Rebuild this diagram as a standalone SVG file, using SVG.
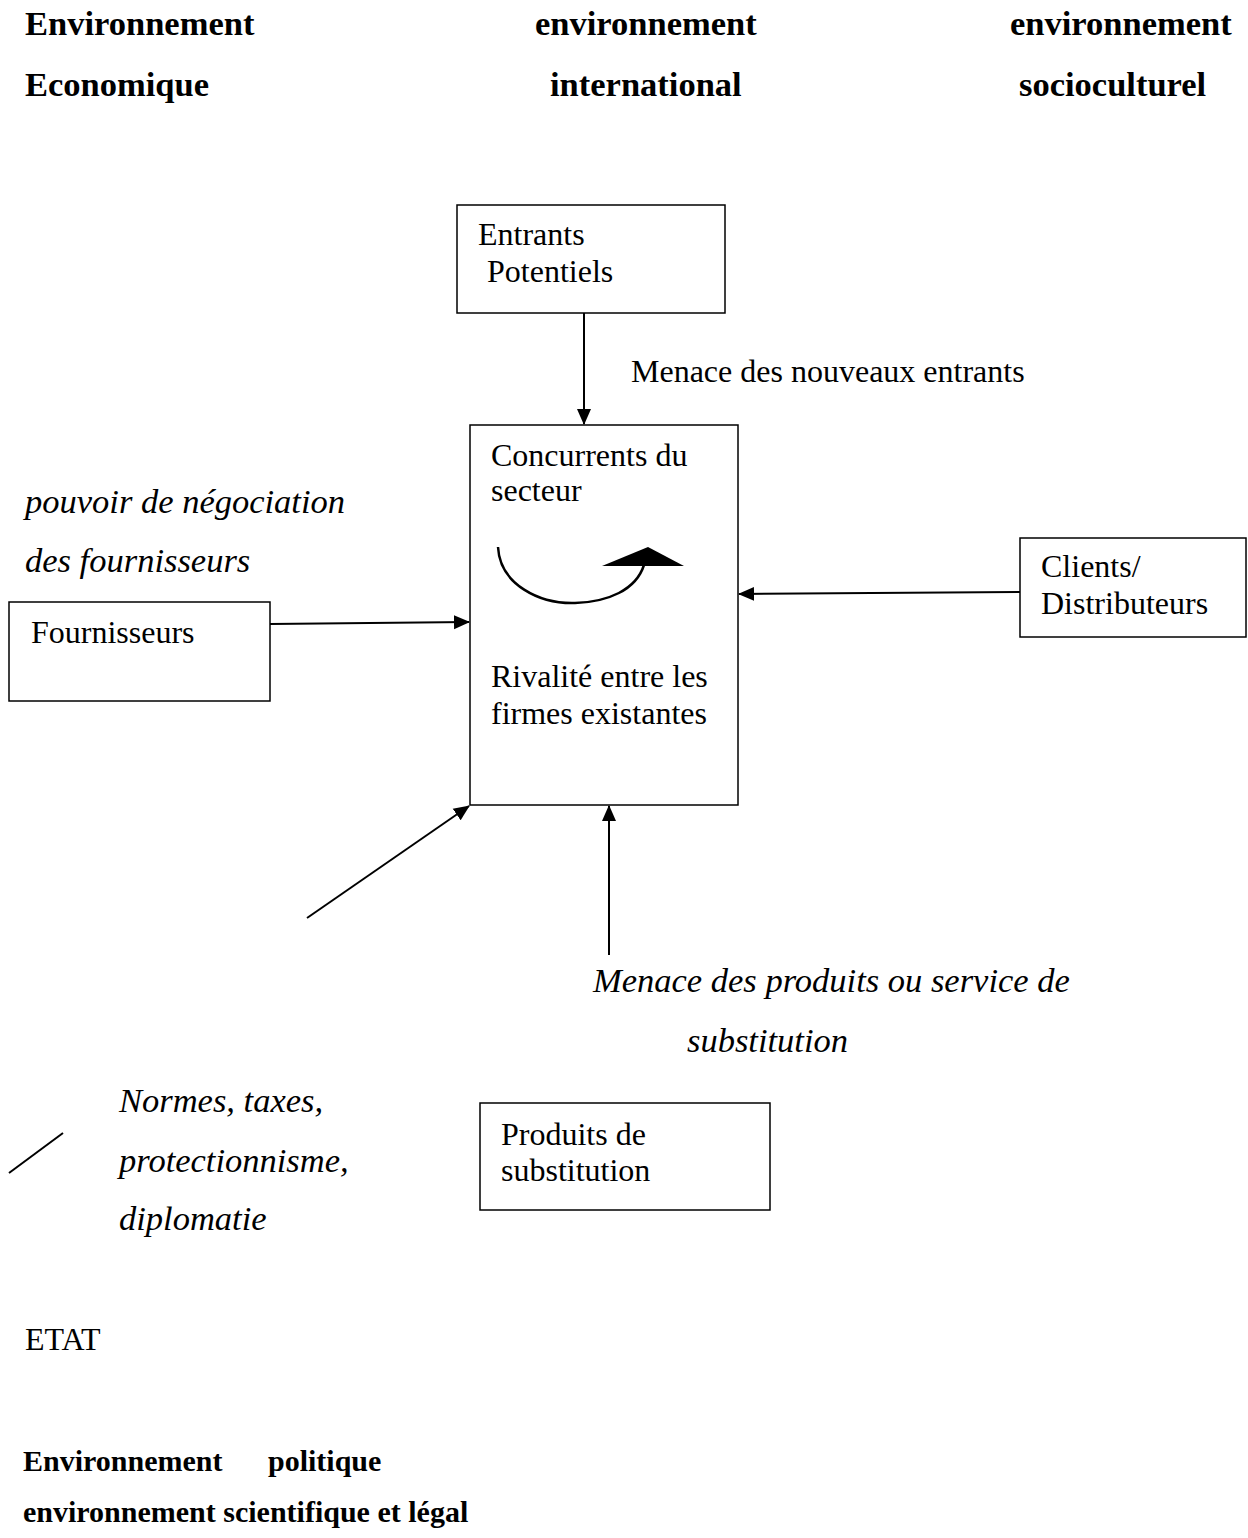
<svg xmlns="http://www.w3.org/2000/svg" width="1248" height="1538" viewBox="0 0 1248 1538">
  <style>
    .box { fill: #fff; stroke: #000; stroke-width: 1.5; }
    .reg { font-family: "Liberation Serif", "Times New Roman", serif; font-size: 32px; fill: #000; }
    .ital { font-family: "Liberation Serif", "Times New Roman", serif; font-size: 34.5px; font-style: italic; fill: #000; }
    .head { font-family: "Liberation Serif", "Times New Roman", serif; font-size: 34.5px; font-weight: bold; fill: #000; }
    .foot { font-family: "Liberation Serif", "Times New Roman", serif; font-size: 30px; font-weight: bold; fill: #000; }
    .link { fill: none; stroke: #000; stroke-width: 2; }
  </style>
  <defs>
    <marker id="arrow" markerUnits="userSpaceOnUse" markerWidth="16" markerHeight="16" viewBox="0 0 16 16" refX="15" refY="8" orient="auto">
      <path d="M0,1 L16,8 L0,15 Z" fill="#000"/>
    </marker>
  </defs>

  <rect width="1248" height="1538" fill="#fff"/>

  <!-- environment headings -->
  <g id="env-economique">
    <text class="head" x="25" y="35">Environnement</text>
    <text class="head" x="25" y="96">Economique</text>
  </g>
  <g id="env-international">
    <text class="head" x="535" y="35">environnement</text>
    <text class="head" x="550" y="96">international</text>
  </g>
  <g id="env-socioculturel">
    <text class="head" x="1010" y="35">environnement</text>
    <text class="head" x="1019" y="96">socioculturel</text>
  </g>

  <!-- forces -->
  <g id="entrants">
    <rect class="box" x="457" y="205" width="268" height="108"/>
    <text class="reg" x="478" y="245">Entrants</text>
    <text class="reg" x="487" y="282">Potentiels</text>
  </g>

  <g id="concurrents">
    <rect class="box" x="470" y="425" width="268" height="380"/>
    <text class="reg" x="491" y="466">Concurrents du</text>
    <text class="reg" x="491" y="501">secteur</text>
    <path d="M498,547 C500,585 540,604 575,603 C608,602 636,590 644,565" fill="none" stroke="#000" stroke-width="2.5"/>
    <path d="M602,566 L648,547 L684,566 Z" fill="#000"/>
    <text class="reg" x="491" y="687">Rivalité entre les</text>
    <text class="reg" x="491" y="724">firmes existantes</text>
  </g>

  <g id="fournisseurs">
    <rect class="box" x="9" y="602" width="261" height="99"/>
    <text class="reg" x="31" y="643">Fournisseurs</text>
  </g>

  <g id="clients">
    <rect class="box" x="1020" y="538" width="226" height="99"/>
    <text class="reg" x="1041" y="577">Clients/</text>
    <text class="reg" x="1041" y="614">Distributeurs</text>
  </g>

  <g id="produits">
    <rect class="box" x="480" y="1103" width="290" height="107"/>
    <text class="reg" x="501" y="1145">Produits de</text>
    <text class="reg" x="501" y="1181">substitution</text>
  </g>

  <g id="etat">
    <text class="reg" x="25" y="1350">ETAT</text>
  </g>

  <!-- force labels -->
  <g id="labels">
    <text class="reg" x="631" y="382">Menace des nouveaux entrants</text>
    <text class="ital" x="25" y="513">pouvoir de négociation</text>
    <text class="ital" x="25" y="572">des fournisseurs</text>
    <text class="ital" x="593" y="992">Menace des produits ou service de</text>
    <text class="ital" x="687" y="1052">substitution</text>
    <text class="ital" x="119" y="1112">Normes, taxes,</text>
    <text class="ital" x="119" y="1172">protectionnisme,</text>
    <text class="ital" x="119" y="1230">diplomatie</text>
  </g>

  <!-- connectors -->
  <g id="connectors">
    <line class="link" x1="584" y1="313" x2="584" y2="424" marker-end="url(#arrow)"/>
    <line class="link" x1="270" y1="624" x2="469" y2="622" marker-end="url(#arrow)"/>
    <line class="link" x1="1020" y1="592" x2="739" y2="594" marker-end="url(#arrow)"/>
    <line class="link" x1="609" y1="955" x2="609" y2="806" marker-end="url(#arrow)"/>
    <line class="link" x1="307" y1="918" x2="469" y2="806" marker-end="url(#arrow)"/>
    <line class="link" x1="9" y1="1173" x2="63" y2="1133"/>
  </g>

  <!-- political / legal environment -->
  <g id="env-politique">
    <text class="foot" x="23" y="1471">Environnement</text>
    <text class="foot" x="268" y="1471">politique</text>
    <text class="foot" x="23" y="1522">environnement scientifique et légal</text>
  </g>
</svg>
